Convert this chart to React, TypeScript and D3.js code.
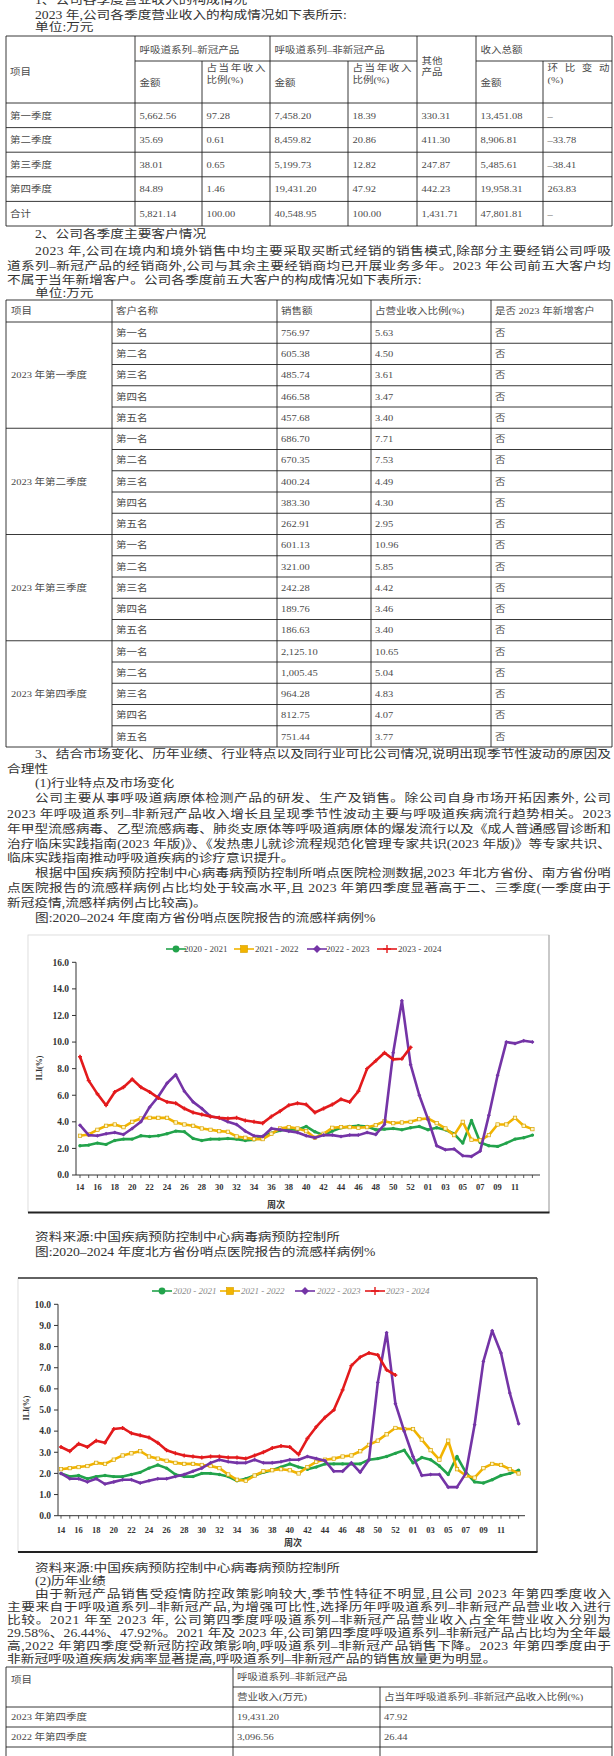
import * as d3 from 'd3'

// ---- data ----
const weeks = ['14','15','16','17','18','19','20','21','22','23','24','25','26','27','28','29','30','31','32','33','34','35','36','37','38','39','40','41','42','43','44','45','46','47','48','49','50','51','52','53','01','02','03','04','05','06','07','08','09','10','11','12','13']
const seasons = ['2020 - 2021', '2021 - 2022', '2022 - 2023', '2023 - 2024']
const colors = ['#22a34b', '#f2b400', '#7434a6', '#e31a1c']

const southGreen = [2.2, 2.25, 2.4, 2.3, 2.6, 2.7, 2.7, 2.95, 2.9, 2.95, 3.1, 3.3, 3.25, 2.75, 2.6, 2.7, 2.7, 2.75, 2.7, 2.6, 2.65, 2.9, 3.15, 3.35, 3.45, 3.4, 3.65, 3.25, 3.0, 3.3, 3.55, 3.65, 3.7, 3.65, 3.4, 3.45, 3.5, 3.4, 3.55, 3.65, 3.4, 3.55, 3.4, 3.1, 2.4, 4.1, 2.45, 2.2, 2.15, 2.4, 2.7, 2.8, 3.0]
const southYellow = [2.95, 3.05, 3.4, 3.7, 3.8, 3.6, 4.0, 4.25, 4.3, 4.3, 4.3, 3.95, 3.8, 3.7, 3.5, 3.4, 3.3, 3.25, 2.9, 2.8, 2.7, 2.7, 3.1, 3.5, 3.6, 3.5, 3.3, 2.8, 3.1, 3.55, 3.6, 3.6, 3.55, 3.6, 3.75, 4.05, 3.9, 3.95, 4.0, 4.2, 4.25, 3.9, 3.5, 3.0, 4.0, 2.65, 2.6, 3.0, 3.8, 3.8, 4.3, 3.7, 3.45]
const southPurple = [3.75, 3.0, 2.95, 3.1, 3.2, 3.05, 3.5, 4.0, 5.1, 5.9, 6.9, 7.55, 6.3, 5.5, 5.0, 4.4, 4.3, 4.0, 3.8, 3.3, 2.95, 2.9, 3.5, 3.4, 3.3, 3.2, 2.95, 2.8, 3.0, 3.0, 2.9, 3.0, 3.0, 3.2, 3.05, 3.8, 9.2, 13.1, 8.3, 6.0, 4.2, 2.2, 1.9, 1.95, 1.45, 1.4, 1.8, 4.5, 7.5, 10.0, 9.9, 10.1, 10.0]
const southRed = [8.9, 7.1, 6.1, 5.25, 6.25, 6.6, 7.2, 6.6, 6.25, 5.8, 5.5, 5.4, 5.0, 4.7, 4.55, 4.4, 4.3, 4.25, 4.3, 4.1, 4.0, 3.9, 4.4, 4.8, 5.25, 5.4, 5.3, 4.7, 5.0, 5.3, 5.7, 5.5, 6.3, 8.0, 8.6, 9.2, 8.7, 8.75, 9.6]

const northGreen = [2.0, 1.85, 1.9, 1.75, 1.85, 1.9, 1.85, 1.85, 1.95, 2.05, 2.25, 2.4, 2.25, 1.95, 1.85, 1.85, 2.0, 2.0, 1.95, 1.85, 1.65, 1.75, 1.9, 2.05, 2.15, 2.3, 2.45, 2.3, 2.2, 2.3, 2.45, 2.45, 2.45, 2.45, 2.45, 2.65, 2.7, 2.8, 2.95, 3.1, 2.5, 2.75, 2.65, 2.35, 1.95, 2.8, 2.05, 1.6, 1.55, 1.7, 1.9, 2.0, 2.15]
const northYellow = [2.2, 2.25, 2.3, 2.35, 2.5, 2.45, 2.65, 2.85, 2.95, 3.05, 2.8, 2.7, 2.6, 2.5, 2.45, 2.45, 2.4, 2.35, 2.25, 1.95, 1.7, 1.65, 1.9, 2.1, 2.15, 2.2, 2.15, 2.0, 2.3, 2.55, 2.65, 2.7, 2.8, 2.85, 3.05, 3.35, 3.55, 3.85, 4.15, 4.1, 4.1, 3.6, 3.1, 2.65, 3.55, 2.2, 1.9, 1.8, 2.25, 2.45, 2.4, 2.2, 2.0]
const northPurple = [2.0, 1.75, 1.75, 1.6, 1.75, 1.5, 1.6, 1.7, 1.7, 1.55, 1.65, 1.75, 1.75, 1.85, 1.95, 2.1, 2.25, 2.5, 2.65, 2.55, 2.5, 2.5, 2.65, 2.5, 2.5, 2.55, 2.65, 2.65, 2.8, 2.7, 2.6, 2.1, 2.1, 2.5, 2.05, 2.65, 6.3, 8.65, 5.3, 4.0, 2.8, 1.9, 1.95, 1.95, 1.35, 1.35, 2.0, 4.3, 7.3, 8.75, 7.7, 5.8, 4.35]
const northRed = [3.25, 3.05, 3.4, 3.25, 3.55, 3.45, 4.1, 4.15, 3.9, 3.8, 3.7, 3.45, 3.1, 2.95, 2.85, 2.8, 2.75, 2.8, 2.8, 2.75, 2.75, 2.7, 2.85, 3.0, 3.2, 3.3, 3.25, 2.9, 3.65, 4.2, 4.65, 5.0, 5.95, 7.1, 7.5, 7.7, 7.6, 6.9, 6.65]

// table 1
const quarters = ['第一季度', '第二季度', '第三季度', '第四季度', '合计']
const covidAmt = ['5,662.56', '35.69', '38.01', '84.89', '5,821.14']
const covidPct = ['97.28', '0.61', '0.65', '1.46', '100.00']
const nonCovidAmt = ['7,458.20', '8,459.82', '5,199.73', '19,431.20', '40,548.95']
const nonCovidPct = ['18.39', '20.86', '12.82', '47.92', '100.00']
const otherAmt = ['330.31', '411.30', '247.87', '442.23', '1,431.71']
const totalAmt = ['13,451.08', '8,906.81', '5,485.61', '19,958.31', '47,801.81']
const totalChg = ['–', '–33.78', '–38.41', '263.83', '–']

// table 2
const quarterLabels = ['2023 年第一季度', '2023 年第二季度', '2023 年第三季度', '2023 年第四季度']
const ranks = ['第一名', '第二名', '第三名', '第四名', '第五名']
const customerSales = [
  ['756.97', '605.38', '485.74', '466.58', '457.68'],
  ['686.70', '670.35', '400.24', '383.30', '262.91'],
  ['601.13', '321.00', '242.28', '189.76', '186.63'],
  ['2,125.10', '1,005.45', '964.28', '812.75', '751.44'],
]
const customerPct = [
  ['5.63', '4.50', '3.61', '3.47', '3.40'],
  ['7.71', '7.53', '4.49', '4.30', '2.95'],
  ['10.96', '5.85', '4.42', '3.46', '3.40'],
  ['10.65', '5.04', '4.83', '4.07', '3.77'],
]

// table 3
const histPeriods = ['2023 年第四季度', '2022 年第四季度']
const histRevenue = ['19,431.20', '3,096.56']
const histShare = ['47.92', '26.44']

const FONT = "'Liberation Serif','Noto Sans CJK SC',serif"
const RIGHT = 611

function T({ x, y, s, size = 13.7, w, fill = '#333', anchor = 'start', sy = 0.85 }: any) {
  const extra: any = w ? { textLength: w, lengthAdjust: 'spacing' } : {}
  return (
    <text transform={`translate(${x},${y}) scale(1,${sy})`} dy="0.36em" fontSize={size} fill={fill} textAnchor={anchor} {...extra}>{s}</text>
  )
}

// body lines: [text, x, y, justified]
const bodyLines: [string, number, number, boolean][] = [
  ['1、公司各季度营业收入的构成情况', 35, 0, false],
  ['2023 年,公司各季度营业收入的构成情况如下表所示:', 35, 15, false],
  ['单位:万元', 35, 27, false],
  ['2、公司各季度主要客户情况', 35, 234, false],
  ['2023 年,公司在境内和境外销售中均主要采取买断式经销的销售模式,除部分主要经销公司呼吸', 35, 251, true],
  ['道系列–新冠产品的经销商外,公司与其余主要经销商均已开展业务多年。2023 年公司前五大客户均', 7, 266, true],
  ['不属于当年新增客户。公司各季度前五大客户的构成情况如下表所示:', 7, 280, false],
  ['单位:万元', 35, 293, false],
  ['3、结合市场变化、历年业绩、行业特点以及同行业可比公司情况,说明出现季节性波动的原因及', 35, 754, true],
  ['合理性', 7, 769, false],
  ['(1)行业特点及市场变化', 35, 783, false],
  ['公司主要从事呼吸道病原体检测产品的研发、生产及销售。除公司自身市场开拓因素外, 公司', 35, 798, true],
  ['2023 年呼吸道系列–非新冠产品收入增长且呈现季节性波动主要与呼吸道疾病流行趋势相关。2023', 7, 814, true],
  ['年甲型流感病毒、乙型流感病毒、肺炎支原体等呼吸道病原体的爆发流行以及《成人普通感冒诊断和', 7, 829, true],
  ['治疗临床实践指南(2023 年版)》、《发热患儿就诊流程规范化管理专家共识(2023 年版)》等专家共识、', 7, 844, true],
  ['临床实践指南推动呼吸道疾病的诊疗意识提升。', 7, 858, false],
  ['根据中国疾病预防控制中心病毒病预防控制所哨点医院检测数据,2023 年北方省份、南方省份哨', 35, 873, true],
  ['点医院报告的流感样病例占比均处于较高水平,且 2023 年第四季度显著高于二、三季度(一季度由于', 7, 888, true],
  ['新冠疫情,流感样病例占比较高)。', 7, 903, false],
  ['图:2020–2024 年度南方省份哨点医院报告的流感样病例%', 35, 918, false],
  ['资料来源:中国疾病预防控制中心病毒病预防控制所', 35, 1237, false],
  ['图:2020–2024 年度北方省份哨点医院报告的流感样病例%', 35, 1252, false],
  ['资料来源:中国疾病预防控制中心病毒病预防控制所', 35, 1568, false],
  ['(2)历年业绩', 35, 1581, false],
  ['由于新冠产品销售受疫情防控政策影响较大,季节性特征不明显,且公司 2023 年第四季度收入', 35, 1594, true],
  ['主要来自于呼吸道系列–非新冠产品,为增强可比性,选择历年呼吸道系列–非新冠产品营业收入进行', 7, 1607, true],
  ['比较。2021 年至 2023 年, 公司第四季度呼吸道系列–非新冠产品营业收入占全年营业收入分别为', 7, 1620, true],
  ['29.58%、26.44%、47.92%。2021 年及 2023 年,公司第四季度呼吸道系列–非新冠产品占比均为全年最', 7, 1633, true],
  ['高,2022 年第四季度受新冠防控政策影响,呼吸道系列–非新冠产品销售下降。2023 年第四季度由于', 7, 1646, true],
  ['非新冠呼吸道疾病发病率显著提高,呼吸道系列–非新冠产品的销售放量更为明显。', 7, 1659, false],
]

const TC = '#4a4a4a'
const TS = 10.5

function Lines({ segs }: { segs: number[][] }) {
  return (
    <g stroke="#222" strokeWidth={0.9}>
      {segs.map((s, i) => <line key={i} x1={s[0]} y1={s[1]} x2={s[2]} y2={s[3]} />)}
    </g>
  )
}

function Table1() {
  const rowTop = 103
  const rh = 24.6
  const cx = [10, 139.5, 206.5, 274.5, 352.5, 421.5, 480.5, 547.5]
  const segs: number[][] = [[6, 36, 612, 36], [6, 226, 612, 226], [6, 36, 6, 226], [612, 36, 612, 226]]
  ;[135, 270, 417, 476].forEach(x => segs.push([x, 36, x, 226]))
  ;[202, 348, 543].forEach(x => segs.push([x, 61, x, 226]))
  segs.push([135, 61, 417, 61], [476, 61, 612, 61])
  for (let i = 0; i < 5; i++) segs.push([6, rowTop + i * rh, 612, rowTop + i * rh])
  const cols = [quarters, covidAmt, covidPct, nonCovidAmt, nonCovidPct, otherAmt, totalAmt, totalChg]
  return (
    <g>
      <Lines segs={segs} />
      <T x={10} y={72} s="项目" size={TS} fill={TC} />
      <T x={139.5} y={50} s="呼吸道系列–新冠产品" size={TS} fill={TC} />
      <T x={274.5} y={50} s="呼吸道系列–非新冠产品" size={TS} fill={TC} />
      <T x={421.5} y={61} s="其他" size={TS} fill={TC} />
      <T x={421.5} y={72} s="产品" size={TS} fill={TC} />
      <T x={480.5} y={50} s="收入总额" size={TS} fill={TC} />
      <T x={139.5} y={83} s="金额" size={TS} fill={TC} />
      <T x={206.5} y={68} s="占当年收入" size={TS} fill={TC} w={59} />
      <T x={206.5} y={80} s="比例(%)" size={TS} fill={TC} />
      <T x={274.5} y={83} s="金额" size={TS} fill={TC} />
      <T x={352.5} y={68} s="占当年收入" size={TS} fill={TC} w={59} />
      <T x={352.5} y={80} s="比例(%)" size={TS} fill={TC} />
      <T x={480.5} y={83} s="金额" size={TS} fill={TC} />
      <T x={547.5} y={68} s="环比变动" size={TS} fill={TC} w={62} />
      <T x={547.5} y={80} s="(%)" size={TS} fill={TC} />
      {cols.map((col, c) => col.map((v, r) => (
        <T key={`${c}-${r}`} x={cx[c]} y={rowTop + rh * (r + 0.5)} s={v} size={TS} fill={TC} />
      )))}
    </g>
  )
}

function Table2() {
  const top = 300, head = 322, bottom = 747
  const rh = (bottom - head) / 20
  const segs: number[][] = [[6, top, 612, top], [6, bottom, 612, bottom], [6, top, 6, bottom], [612, top, 612, bottom], [6, head, 612, head]]
  ;[112, 277, 371, 491].forEach(x => segs.push([x, top, x, bottom]))
  for (let i = 1; i < 20; i++) {
    const y = head + i * rh
    segs.push([i % 5 === 0 ? 6 : 112, y, 612, y])
  }
  return (
    <g>
      <Lines segs={segs} />
      {['项目', '客户名称', '销售额', '占营业收入比例(%)', '是否 2023 年新增客户'].map((h, i) => (
        <T key={h} x={[11, 116, 281, 375, 495][i]} y={311} s={h} size={TS} fill={TC} />
      ))}
      {quarterLabels.map((q, g) => (
        <g key={q}>
          <T x={11} y={head + rh * (g * 5 + 2.5)} s={q} size={TS} fill={TC} />
          {ranks.map((r, k) => {
            const y = head + rh * (g * 5 + k + 0.5)
            return (
              <g key={r}>
                <T x={116} y={y} s={r} size={TS} fill={TC} />
                <T x={281} y={y} s={customerSales[g][k]} size={TS} fill={TC} />
                <T x={375} y={y} s={customerPct[g][k]} size={TS} fill={TC} />
                <T x={495} y={y} s="否" size={TS} fill={TC} />
              </g>
            )
          })}
        </g>
      ))}
    </g>
  )
}

function Table3() {
  const top = 1667
  const segs: number[][] = [[6, top, 612, top], [6, top, 6, 1760], [612, top, 612, 1760], [233, top, 233, 1760], [380, 1687, 380, 1760], [233, 1687, 612, 1687]]
  ;[1707, 1727, 1747].forEach(y => segs.push([6, y, 612, y]))
  return (
    <g>
      <Lines segs={segs} />
      <T x={11} y={1680} s="项目" size={TS} fill={TC} />
      <T x={237} y={1677} s="呼吸道系列–非新冠产品" size={TS} fill={TC} />
      <T x={237} y={1697} s="营业收入(万元)" size={TS} fill={TC} />
      <T x={384} y={1697} s="占当年呼吸道系列–非新冠产品收入比例(%)" size={TS} fill={TC} />
      {histPeriods.map((p, i) => (
        <g key={p}>
          <T x={11} y={1717 + i * 20} s={p} size={TS} fill={TC} />
          <T x={237} y={1717 + i * 20} s={histRevenue[i]} size={TS} fill={TC} />
          <T x={384} y={1717 + i * 20} s={histShare[i]} size={TS} fill={TC} />
        </g>
      ))}
    </g>
  )
}

function Marker({ kind, x, y, big }: any) {
  const k = big ? 2 : 1
  if (kind === 0) return <circle cx={x} cy={y} r={1.7 * k} fill={colors[0]} />
  if (kind === 1) return <rect x={x - 1.7 * k} y={y - 1.7 * k} width={3.4 * k} height={3.4 * k} fill={big ? colors[1] : '#fff6c8'} stroke="#d9a300" strokeWidth={0.7} />
  if (kind === 2) return <path d={`M${x},${y - 2 * k}L${x + 2 * k},${y}L${x},${y + 2 * k}L${x - 2 * k},${y}Z`} fill={colors[2]} />
  return <path d={`M${x - 2 * k},${y}H${x + 2 * k}M${x},${y - 2 * k}V${y + 2 * k}`} stroke={colors[3]} strokeWidth={1.4} />
}

function FluChart({ g, series }: any) {
  const x = d3.scaleLinear().domain([0, weeks.length - 1]).range([g.x0, g.x1])
  const y = d3.scaleLinear().domain([0, g.yMax]).range([g.yB, g.yT])
  const line = d3.line<number>().x((_, i) => x(i)).y(d => y(d))
  const ticks = d3.range(0, g.yMax + 1e-6, g.yStep)
  const fmt = d3.format('.1f')
  return (
    <g fontFamily="'Liberation Serif',serif">
      <rect x={g.fl} y={g.ft} width={g.fr - g.fl} height={g.fb - g.ft} fill="#fff" stroke="#d6d6d6" strokeWidth={0.8} />
      {g.darkTop && <line x1={g.fl} x2={g.fr} y1={g.ft} y2={g.ft} stroke="#333" strokeWidth={1.4} />}
      <line x1={g.fr} x2={g.fr} y1={g.ft} y2={g.fb} stroke={g.darkTop ? '#333' : '#aaa'} strokeWidth={1.1} />
      <line x1={g.fl} x2={g.fr + 0.5} y1={g.fb} y2={g.fb} stroke="#222" strokeWidth={1.8} />

      {/* legend */}
      {seasons.map((s, i) => (
        <g key={s}>
          <line x1={g.lm[i] - 10} x2={g.lm[i] + 10} y1={g.ly} y2={g.ly} stroke={colors[i]} strokeWidth={1.6} />
          <Marker kind={i} x={g.lm[i]} y={g.ly} big />
          <text x={g.lt[i]} y={g.ly} dy="0.35em" fontSize={9} fill={g.legendFill} fontStyle={g.legendItalic ? 'italic' : 'normal'}>{s}</text>
        </g>
      ))}

      {/* axes */}
      <line x1={g.ax} x2={g.ax} y1={g.yT} y2={g.yB} stroke="#333" strokeWidth={1} />
      <line x1={g.ax} x2={g.axEnd} y1={g.yB} y2={g.yB} stroke="#333" strokeWidth={1} />
      {ticks.map(t => (
        <g key={t}>
          <line x1={g.ax - 4} x2={g.ax} y1={y(t)} y2={y(t)} stroke="#333" strokeWidth={1} />
          <text x={g.labR} y={y(t)} dy="0.35em" textAnchor="end" fontSize={9.5} fontWeight="bold" fill="#333">{fmt(t)}</text>
        </g>
      ))}
      {weeks.map((w, i) => (
        <g key={i}>
          <line x1={x(i)} x2={x(i)} y1={g.yB} y2={g.yB + 3} stroke="#333" strokeWidth={0.8} />
          {i % 2 === 0 && i <= 50 && <text x={x(i)} y={g.xly} dy="0.35em" textAnchor="middle" fontSize={8.5} fontWeight="bold" fill="#333">{w}</text>}
        </g>
      ))}
      <text x={g.tx} y={g.ty} dy="0.35em" textAnchor="middle" fontSize={9} fontWeight="bold" fill="#333" fontFamily="'Noto Sans CJK SC'">周次</text>
      <text transform={`translate(${g.ix},${g.iy}) rotate(-90)`} dy="0.35em" textAnchor="middle" fontSize={8} fontWeight="bold" fill="#333">ILI(%)</text>

      {/* series */}
      {series.map((vals: number[], si: number) => (
        <g key={si}>
          <path d={line(vals) || ''} fill="none" stroke={colors[si]} strokeWidth={2.6} strokeLinejoin="round" strokeLinecap="round" />
          {vals.map((v, i) => <Marker key={i} kind={si} x={x(i)} y={y(v)} />)}
        </g>
      ))}
    </g>
  )
}

const southGeo = {
  x0: 80, x1: 532.4, yT: 962.3, yB: 1175, yMax: 16, yStep: 2, ax: 76, axEnd: 540, labR: 69, xly: 1187.5,
  fl: 28, ft: 935, fr: 549, fb: 1212.5, darkTop: false,
  ly: 949, lm: [176, 244, 317, 387], lt: [184, 255, 326, 398], legendFill: '#444', legendItalic: false,
  tx: 276, ty: 1205, ix: 39, iy: 1068,
}
const northGeo = {
  x0: 61, x1: 518.6, yT: 1304.3, yB: 1515.7, yMax: 10, yStep: 1, ax: 58, axEnd: 525, labR: 51, xly: 1530,
  fl: 18, ft: 1278, fr: 537, fb: 1552, darkTop: true,
  ly: 1291, lm: [162, 230, 305, 375], lt: [173, 241, 317, 386], legendFill: '#8a8a8a', legendItalic: true,
  tx: 293, ty: 1543, ix: 26, iy: 1408,
}

export default function App() {
  return (
    <div style={{ position: 'absolute', left: 0, top: 0, width: 614, height: 1756, overflow: 'hidden', background: '#fff' }}>
      <svg width={614} height={1756} fontFamily={FONT}>
        <rect width={614} height={1756} fill="#fff" />
        {bodyLines.map(([s, x, y, full], i) => (
          <T key={i} x={x} y={y} s={s} w={full ? RIGHT - x : undefined} />
        ))}
        <Table1 />
        <Table2 />
        <FluChart g={southGeo} series={[southGreen, southYellow, southPurple, southRed]} />
        <FluChart g={northGeo} series={[northGreen, northYellow, northPurple, northRed]} />
        <Table3 />
      </svg>
    </div>
  )
}
